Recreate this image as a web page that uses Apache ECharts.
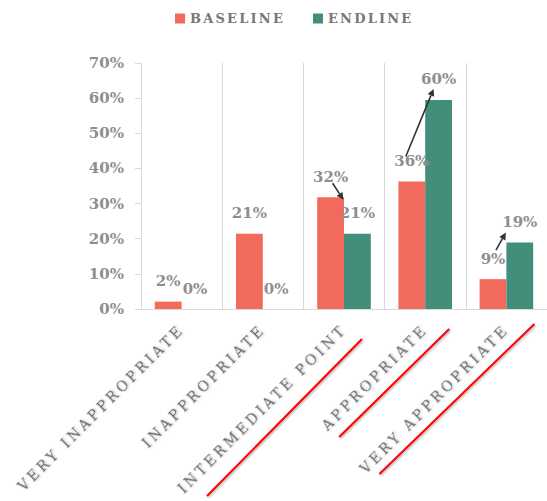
<!DOCTYPE html>
<html><head><meta charset="utf-8">
<script src="https://cdn.jsdelivr.net/npm/echarts@6/dist/echarts.min.js"></script>
<style>html,body{margin:0;padding:0;background:#fff}#chart{width:547px;height:501px}</style>
</head><body><div id="chart"></div>
<script>
const categories = ['VERY INAPPROPRIATE', 'INAPPROPRIATE', 'INTERMEDIATE POINT', 'APPROPRIATE', 'VERY APPROPRIATE'];
const seriesNames = ['BASELINE', 'ENDLINE'];
const baseline = [2.1, 21.4, 31.8, 36.3, 8.5];
const endline = [0, 0, 21.4, 59.5, 18.9];
const yMin = 0, yMax = 70, yStep = 10;
const arrowCats = [2, 3, 4];
const underlinedCats = [2, 3, 4];

const RED = '#F26A5B', GREEN = '#418E7B';
const chart = echarts.init(document.getElementById('chart'), null, {renderer: 'svg'});
const labelFont = {fontFamily: 'DejaVu Serif', fontWeight: 'bold', fontSize: 15, color: '#8e8e8e'};
const legendText = {fontFamily: 'DejaVu Serif', fontWeight: 'bold', fontSize: 13, color: '#777777'};

chart.setOption({
  animation: false,
  backgroundColor: '#fff',
  legend: [
    {data: [seriesNames[0]], left: 175, top: 12, padding: 0, icon: 'rect', itemWidth: 10, itemHeight: 10, itemGap: 0, textStyle: legendText},
    {data: [seriesNames[1]], left: 313, top: 12, padding: 0, icon: 'rect', itemWidth: 10, itemHeight: 10, itemGap: 0, textStyle: legendText}
  ],
  grid: {left: 141, top: 63, right: -10, bottom: 192, containLabel: false},
  xAxis: {
    type: 'category', data: categories,
    axisLine: {show: true, lineStyle: {color: '#d9d9d9', width: 1}},
    axisTick: {show: false},
    splitLine: {show: true, lineStyle: {color: '#d9d9d9', width: 1}},
    axisLabel: {interval: 0, rotate: 45, margin: 18, fontFamily: 'DejaVu Serif', fontSize: 14, color: '#666666',
      textShadowColor: 'rgba(0,0,0,0.22)', textShadowBlur: 2, textShadowOffsetX: 1, textShadowOffsetY: 1}
  },
  yAxis: {
    type: 'value', min: yMin, max: yMax, interval: yStep,
    axisLine: {show: true, lineStyle: {color: '#d9d9d9'}},
    axisTick: {show: true, length: 6, lineStyle: {color: '#d9d9d9'}},
    splitLine: {show: false},
    axisLabel: Object.assign({margin: 17, formatter: '{value}%'}, labelFont)
  },
  series: [
    {name: seriesNames[0], type: 'bar', data: baseline, barWidth: '33%', barGap: '0%', itemStyle: {color: RED},
      label: Object.assign({show: true, position: 'top', distance: 13, formatter: p => Math.round(p.value) + '%'}, labelFont)},
    {name: seriesNames[1], type: 'bar', data: endline, barWidth: '33%', barGap: '0%', itemStyle: {color: GREEN},
      label: Object.assign({show: true, position: 'top', distance: 13, formatter: p => Math.round(p.value) + '%'}, labelFont)}
  ]
});

// annotations placed relative to the library's own scales
function px(i, v) { return chart.convertToPixel({seriesIndex: 0}, [i, v]); }
const cw = px(1, 0)[0] - px(0, 0)[0];
const bw = cw * 0.33;
const arrowOffsets = {2: [[2, 7], [-14, -13]], 3: [[-6, -4], [-5, 10]], 4: [[3, -8], [-14, 11]]};
const underlineOffsets = {2: [[-137, 187], [18, 30]], 3: [[-86, 128], [24, 20]], 4: [[-127, 165], [28, 15]]};
const graphics = [];
arrowCats.forEach(i => {
  const pr = px(i, baseline[i]), pg = px(i, endline[i]);
  const lr = [pr[0] - bw / 2, pr[1] - 21], lg = [pg[0] + bw / 2, pg[1] - 21];
  const o = arrowOffsets[i];
  const s = [lr[0] + o[0][0], lr[1] + o[0][1]], e = [lg[0] + o[1][0], lg[1] + o[1][1]];
  const dx = e[0] - s[0], dy = e[1] - s[1], L = Math.hypot(dx, dy), ux = dx / L, uy = dy / L;
  const hl = 7, hw = 3.5;
  const b = [e[0] - ux * hl, e[1] - uy * hl];
  graphics.push({type: 'line', shape: {x1: s[0], y1: s[1], x2: b[0], y2: b[1]}, style: {stroke: '#333', lineWidth: 1.6}, z: 100});
  graphics.push({type: 'polygon', shape: {points: [e, [b[0] - uy * hw, b[1] + ux * hw], [b[0] + uy * hw, b[1] - ux * hw]]}, style: {fill: '#333'}, z: 100});
});
underlinedCats.forEach(i => {
  const a = px(i, 0);
  const o = underlineOffsets[i];
  graphics.push({type: 'line', shape: {x1: a[0] + o[0][0], y1: a[1] + o[0][1], x2: a[0] + o[1][0], y2: a[1] + o[1][1]},
    style: {stroke: '#ff0000', lineWidth: 2, shadowColor: 'rgba(0,0,0,0.35)', shadowBlur: 2, shadowOffsetX: 1, shadowOffsetY: 1}, z: 100});
});
chart.setOption({graphic: graphics});

function spacing() {
  chart.getDom().querySelectorAll('text').forEach(t => {
    const s = t.textContent;
    if (categories.includes(s)) t.style.letterSpacing = '3.4px';
    else if (seriesNames.includes(s)) t.style.letterSpacing = '2.2px';
  });
}
chart.on('finished', spacing);
spacing();
setTimeout(spacing, 50);
</script>
</body></html>
